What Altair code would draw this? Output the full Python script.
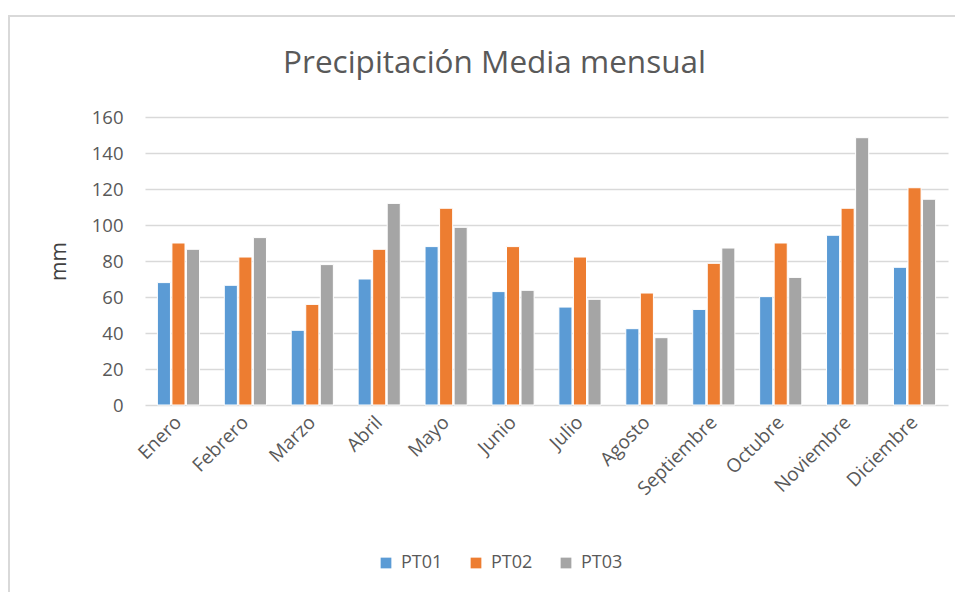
import altair as alt
import pandas as pd

months = ["Enero", "Febrero", "Marzo", "Abril", "Mayo", "Junio", "Julio",
          "Agosto", "Septiembre", "Octubre", "Noviembre", "Diciembre"]
series = ["PT01", "PT02", "PT03"]
pt01 = [68, 66.5, 41.5, 70, 88, 63, 54.4, 42.4, 53.1, 60.2, 94.3, 76.5]
pt02 = [90, 82.2, 55.9, 86.5, 109.3, 88, 82.2, 62.2, 78.7, 90, 109.3, 120.7]
pt03 = [86.5, 93, 78, 112, 98.7, 63.7, 58.7, 37.4, 87.2, 70.9, 148.5, 114.3]
colors = ["#5B9BD5", "#ED7D31", "#A5A5A5"]
y_ticks = [0, 20, 40, 60, 80, 100, 120, 140, 160]

rows = []
for s, vals in zip(series, [pt01, pt02, pt03]):
    for m, v in zip(months, vals):
        rows.append({"Mes": m, "Serie": s, "mm": v})
df = pd.DataFrame(rows)

FONT = "Open Sans"
GRAY = "#595959"

bars = alt.Chart(df).mark_bar(stroke="white", strokeWidth=1).encode(
    x=alt.X("Mes:N", sort=months, title=None,
            scale=alt.Scale(paddingInner=0.37, paddingOuter=0.185),
            axis=alt.Axis(labelAngle=-45, labelFontSize=19, labelColor=GRAY,
                          labelFont=FONT, ticks=False, domain=False,
                          labelPadding=14, labelAlign="right", labelBaseline="middle")),
    xOffset=alt.XOffset("Serie:N", sort=series, scale=alt.Scale(paddingInner=0.1)),
    y=alt.Y("mm:Q", title="mm",
            scale=alt.Scale(domain=[0, 160], nice=False),
            axis=alt.Axis(values=y_ticks, labelFontSize=18.5, labelColor=GRAY,
                          labelFont=FONT, ticks=False, domain=False,
                          labelPadding=22, gridColor="#d9d9d9", gridWidth=1.5,
                          titleFont=FONT, titleFontSize=21, titleColor="#404040",
                          titleFontWeight="normal", titlePadding=22)),
    color=alt.Color("Serie:N", sort=series,
                    scale=alt.Scale(domain=series, range=colors),
                    legend=alt.Legend(title=None, orient="none", direction="horizontal",
                                      legendX=232, legendY=437, symbolType="square",
                                      symbolSize=115, symbolStrokeWidth=0,
                                      labelFontSize=18, labelColor=GRAY, labelFont=FONT,
                                      columnPadding=24, labelOffset=6)),
)

frame = alt.Chart(df).mark_rect(fill=None, stroke="#d9d9d9", strokeWidth=2, clip=False).encode(
    x=alt.value(-136), x2=alt.value(830), y=alt.value(-101), y2=alt.value(520)
)

chart = alt.layer(frame, bars).properties(
    width=803, height=288,
    title=alt.TitleParams("Precipitación Media mensual", fontSize=31.5, font=FONT,
                          fontWeight="normal", color=GRAY, anchor="middle",
                          dx=-52, offset=-64),
    autosize=alt.AutoSizeParams(type="none"),
    padding={"left": 137, "top": 109, "right": 7, "bottom": 190},
).configure_view(stroke=None)

chart.save("out.html", embed_options={"renderer": "svg", "actions": False})
